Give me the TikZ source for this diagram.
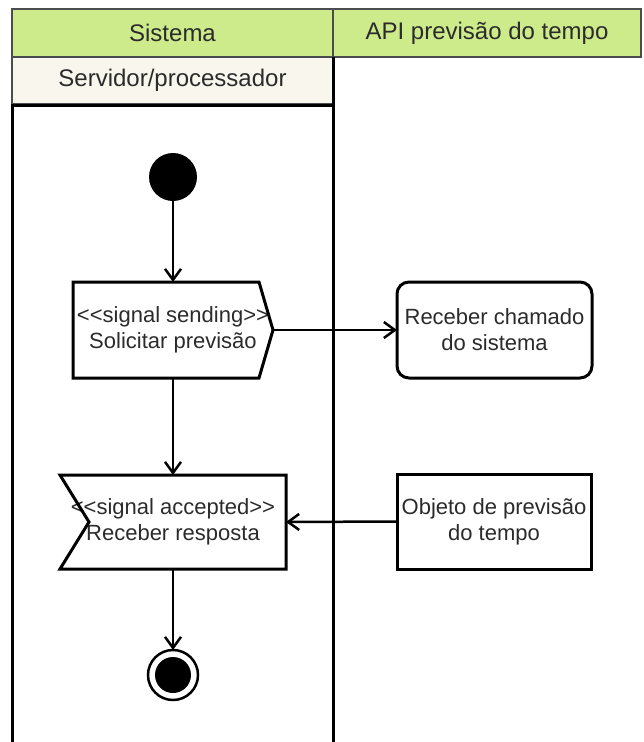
\documentclass[tikz,border=0pt]{standalone}
\usepackage{fontspec}
\setmainfont{Liberation Sans}
\usetikzlibrary{arrows.meta,calc}
\definecolor{hdrgreen}{HTML}{CDEB8B}
\definecolor{subfill}{HTML}{F9F7ED}
\definecolor{hdrline}{HTML}{4A4C50}
\definecolor{txt}{HTML}{2B2B2B}
\tikzset{
  base/.style={font=\fontsize{22}{26}\selectfont, text=txt, align=center, inner sep=0pt, outer sep=0pt},
  lanehead/.style={base, font=\fontsize{24}{28}\selectfont, draw=hdrline, line width=2pt, fill=hdrgreen, minimum height=48pt, anchor=north west},
  subhead/.style={base, font=\fontsize{24}{28}\selectfont, draw=hdrline, line width=2pt, fill=subfill, anchor=north west},
  lanebody/.style={draw=black, line width=3pt},
  shapeline/.style={draw=black, line width=3pt, line join=miter},
  action/.style={base, draw=black, line width=3pt, fill=white},
  sigtext/.style={base},
  initnode/.style={circle, fill=black, minimum size=48pt, inner sep=0pt, outer sep=0pt},
  finalnode/.style={circle, draw=black, line width=2.5pt, fill=white, minimum size=50pt, inner sep=0pt, outer sep=0pt},
  flow/.style={draw=black, line width=2.5pt, -{Straight Barb[length=11pt,width=16pt]}}
}
\begin{document}
\begin{tikzpicture}[x=1pt,y=-1pt]
\useasboundingbox (0,0) rectangle (643,742);

% swimlane headers
\node[lanehead, minimum width=321pt] (hdrSys) at (12,9) {Sistema};
\node[lanehead, minimum width=308pt] (hdrApi) at (333,9) {API previsão do tempo};
\node[subhead, minimum width=321pt, minimum height=47pt] (subSrv) at (12,57) {Servidor/processador};

% lane bodies
\draw[lanebody] (12,742) -- (12,105) -- (333,105);
\draw[lanebody] (333,57) -- (333,742);

% initial node
\node[initnode] (start) at (173,177) {};

% signal sending
\node[sigtext, minimum width=200pt, minimum height=96pt] (send) at (173,330)
  {<{}<signal sending>{}>\\Solicitar previsão};
\draw[shapeline] (send.north west) -- ([xshift=-14pt]send.north east) -- (send.east)
  -- ([xshift=-14pt]send.south east) -- (send.south west) -- cycle;

% signal accepted
\node[sigtext, minimum width=226pt, minimum height=94pt] (acc) at (173,522)
  {<{}<signal accepted>{}>\\Receber resposta};
\draw[shapeline] (acc.north west) -- (acc.north east) -- (acc.south east)
  -- (acc.south west) -- ([xshift=29pt]acc.west) -- cycle;

% API actions
\node[action, rounded corners=12pt, minimum width=195pt, minimum height=96pt] (recv) at (494.5,330)
  {Receber chamado\\do sistema};
\node[action, minimum width=194pt, minimum height=95pt] (obj) at (494,521.5)
  {Objeto de previsão\\do tempo};

% final node
\node[finalnode] (final) at (173,675) {};
\fill[black] (final.center) circle (18pt);

% control flow
\draw[flow] (start) -- (send.north);
\draw[flow] (send.east) -- (recv.west);
\draw[flow] (send.south) -- (acc.north);
\draw[flow] (obj.west) -- (acc.east);
\draw[flow] (acc.south) -- (final.north);
\end{tikzpicture}
\end{document}
